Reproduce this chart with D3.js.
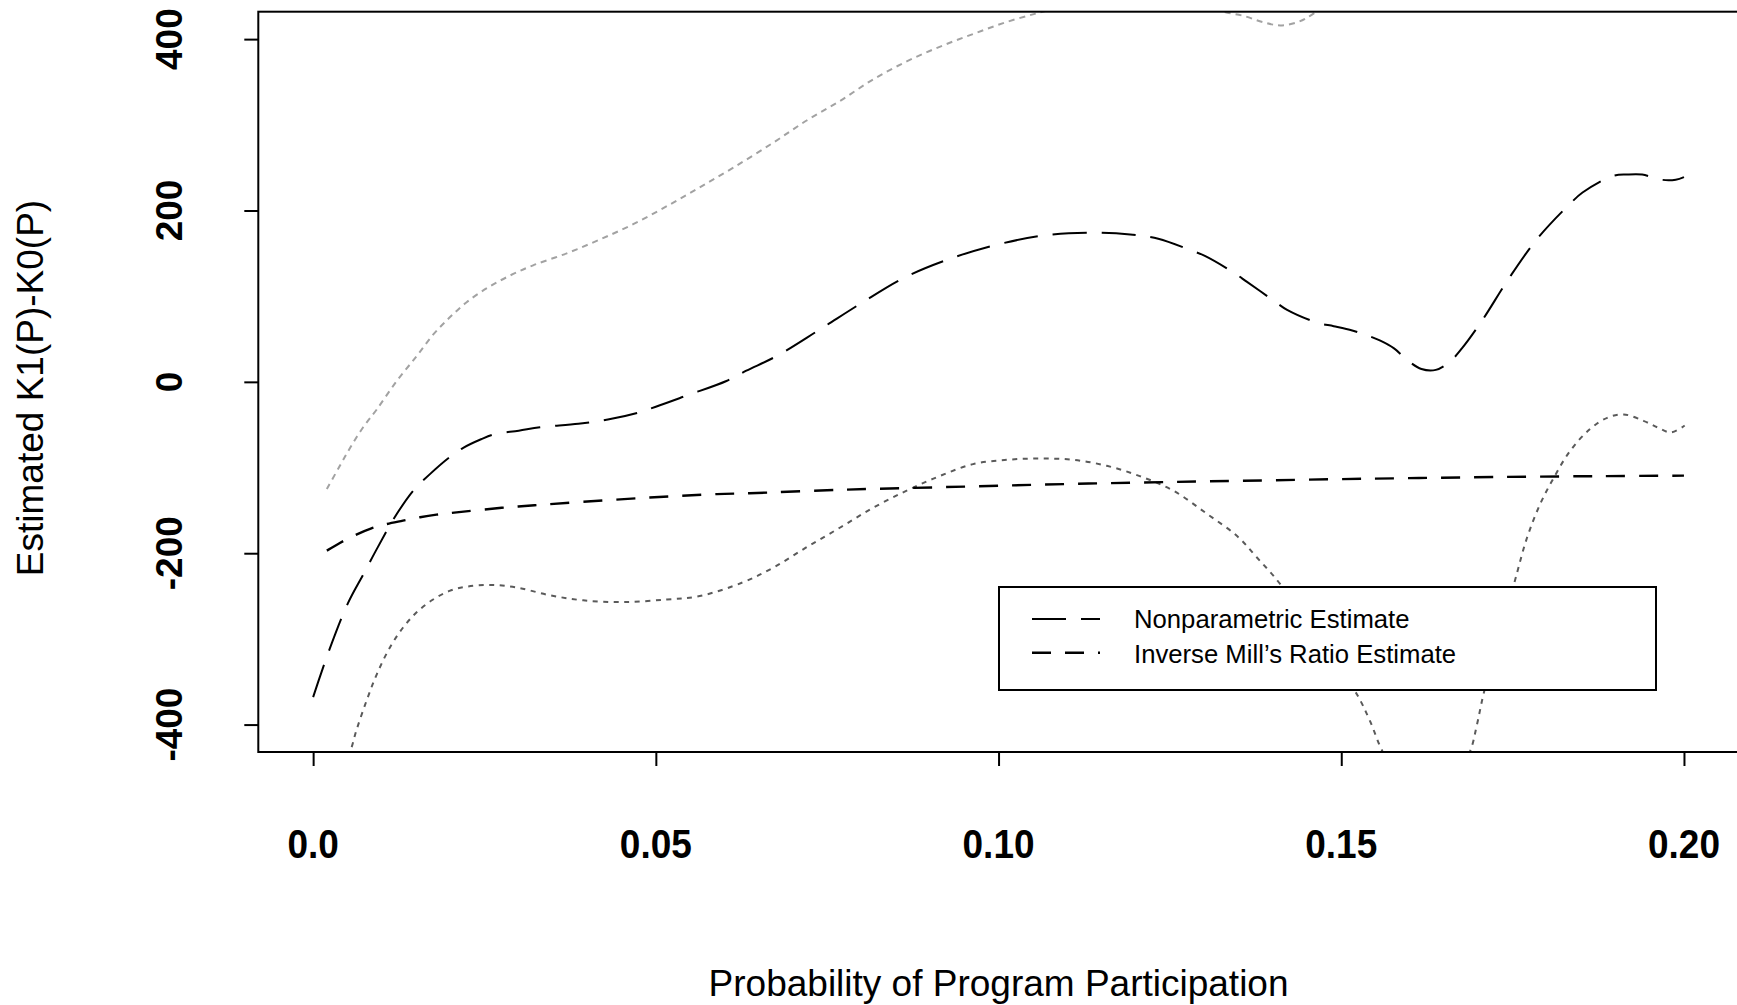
<!DOCTYPE html>
<html>
<head>
<meta charset="utf-8">
<script src="https://cdn.jsdelivr.net/npm/d3@7"></script>
<style>
  html, body { margin: 0; padding: 0; background: #fff; }
  svg { display: block; }
  text { font-family: "Liberation Sans", Arial, Helvetica, sans-serif; fill: #000; }
</style>
</head>
<body>
<svg id="chart" width="1737" height="1005"></svg>
<script>
// ---------------- data ----------------
const xTicks = [0, 0.05, 0.10, 0.15, 0.20];
const xTickLabels = ["0.0", "0.05", "0.10", "0.15", "0.20"];
const yTicks = [-400, -200, 0, 200, 400];
const yTickLabels = ["-400", "-200", "0", "200", "400"];
const xTitle = "Probability of Program Participation";
const yTitle = "Estimated K1(P)-K0(P)";
const legendLabels = ["Nonparametric Estimate", "Inverse Mill\u2019s Ratio Estimate"];

// Nonparametric estimate [P, K1-K0]
const nonparametric = [
  [0.000,-368],[0.0024,-312],[0.0051,-258],[0.0073,-225],[0.0095,-192],[0.0119,-158],
  [0.0146,-127],[0.0170,-108],[0.0199,-88],[0.0219,-77],[0.0245,-67],[0.0265,-61],
  [0.0300,-57],[0.0331,-53],[0.0387,-49],[0.0430,-44],[0.0474,-36],[0.0500,-29],
  [0.0545,-16],[0.0603,1],[0.0632,13],[0.0676,30],[0.0737,60],[0.0798,91],
  [0.0861,121],[0.0927,143],[0.0997,160],[0.1068,171],[0.1138,174],[0.1192,172],
  [0.1233,167],[0.1279,154],[0.1301,147],[0.1342,128],[0.1362,117],[0.1401,95],
  [0.1421,84],[0.1465,69],[0.1489,65],[0.1516,60],[0.1535,55],[0.1557,48],
  [0.1577,39],[0.1597,25],[0.1617,15],[0.1638,14],[0.1659,24],[0.1676,39],
  [0.1705,71],[0.1744,120],[0.1786,167],[0.1834,208],[0.1852,221],[0.1895,240],
  [0.1917,242],[0.1939,242],[0.1966,236],[0.1988,236],[0.2000,239]
];

// Inverse Mill's ratio estimate
const inverseMills = [
  [0.002,-197],[0.0039,-188],[0.0061,-179],[0.0085,-171],[0.0107,-166],[0.0131,-162],
  [0.0156,-158],[0.018,-155],[0.0202,-153],[0.0275,-147],[0.0323,-144],[0.0394,-140],
  [0.0491,-135],[0.0589,-131],[0.0637,-130],[0.0769,-126],[0.0914,-123],[0.106,-120],
  [0.1206,-117.5],[0.1352,-115.5],[0.1542,-113],[0.1737,-111],[0.1883,-110],[0.2,-109.5]
];

// Upper confidence band (parts above the frame are estimated, clipped)
const upperBand = [
  [0.002,-125],[0.0039,-98],[0.0054,-77],[0.0073,-53],[0.0093,-32],[0.0122,1],
  [0.0151,30],[0.0175,55],[0.0199,75],[0.0224,93],[0.0255,110],[0.0287,124],
  [0.0321,136],[0.037,150],[0.0418,166],[0.0467,184],[0.0516,205],[0.0564,227],
  [0.0613,250],[0.0671,279],[0.072,305],[0.0769,328],[0.0817,353],[0.0866,374],
  [0.0914,391],[0.0963,406],[0.1012,420],[0.106,431],[0.110,439],[0.115,444],
  [0.120,446],[0.125,445],[0.130,440],[0.1328,432],[0.1358,427],[0.1385,420],
  [0.1411,416],[0.1437,420],[0.146,430],[0.150,456],[0.155,520],[0.160,515],
  [0.165,500],[0.170,505],[0.175,480],[0.180,472],[0.185,490],[0.190,519],
  [0.195,525],[0.200,527]
];

// Lower confidence band (parts below the frame are estimated, clipped)
const lowerBand = [
  [0.002,-519],[0.0039,-452],[0.0054,-431],[0.0063,-407],[0.0078,-372],[0.0093,-341],
  [0.0112,-310],[0.0131,-287],[0.0151,-269],[0.0175,-254],[0.0199,-244],[0.0224,-239],
  [0.0258,-237],[0.0297,-240],[0.0345,-249],[0.0394,-255],[0.0452,-257],[0.0516,-254],
  [0.0564,-250],[0.0627,-234],[0.0671,-217],[0.072,-193],[0.0769,-170],[0.0817,-147],
  [0.0866,-127],[0.0914,-110],[0.0963,-96],[0.1012,-91],[0.106,-89.5],[0.1109,-91],
  [0.1158,-98],[0.1206,-110],[0.1255,-127],[0.1304,-154],[0.1348,-180],[0.1377,-205],
  [0.1411,-236],[0.1467,-300],[0.1523,-365],[0.1542,-396],[0.156,-431],[0.159,-470],
  [0.1625,-490],[0.166,-470],[0.1688,-431],[0.1698,-400],[0.1708,-363],[0.1752,-236],
  [0.1771,-182],[0.179,-143],[0.181,-112],[0.1834,-80.5],[0.1863,-55],[0.1888,-42],
  [0.1912,-38],[0.1941,-45.5],[0.1961,-53],[0.1981,-59],[0.2001,-51]
];

// ---------------- layout ----------------
const W = 1737, H = 1005;
const plot = { left: 258.3, right: 1738.8, top: 11.7, bottom: 752 };
const FONT = 37;

const svg = d3.select("#chart");

const x = d3.scaleLinear().domain([-0.008, 0.208]).range([plot.left, plot.right]);
const y = d3.scaleLinear().domain([-432, 432]).range([plot.bottom, plot.top]);

svg.append("defs").append("clipPath").attr("id", "clip")
  .append("rect")
  .attr("x", plot.left).attr("y", plot.top)
  .attr("width", plot.right - plot.left).attr("height", plot.bottom - plot.top);

const line = d3.line().x(d => x(d[0])).y(d => y(d[1])).curve(d3.curveCatmullRom.alpha(0.5));

const g = svg.append("g").attr("clip-path", "url(#clip)");

g.append("path").datum(upperBand).attr("d", line)
  .attr("fill", "none").attr("stroke", "#a2a2a2").attr("stroke-width", 2)
  .attr("stroke-dasharray", "6,5");
g.append("path").datum(lowerBand).attr("d", line)
  .attr("fill", "none").attr("stroke", "#5a5a5a").attr("stroke-width", 2)
  .attr("stroke-dasharray", "5,5.5");
g.append("path").datum(inverseMills).attr("d", line)
  .attr("fill", "none").attr("stroke", "#000").attr("stroke-width", 2.4)
  .attr("stroke-dasharray", "19,14");
g.append("path").datum(nonparametric).attr("d", line)
  .attr("fill", "none").attr("stroke", "#000").attr("stroke-width", 2)
  .attr("stroke-dasharray", "34,15");

// ---------------- axes ----------------
const xAxis = d3.axisBottom(x).tickValues(xTicks).tickSize(14).tickFormat("");
const xg = svg.append("g").attr("transform", `translate(0,${plot.bottom})`).call(xAxis);
xg.select(".domain").remove();
xg.selectAll(".tick line").attr("stroke", "#000").attr("stroke-width", 2);

const yAxis = d3.axisLeft(y).tickValues(yTicks).tickSize(14).tickFormat("");
const yg = svg.append("g").attr("transform", `translate(${plot.left},0)`).call(yAxis);
yg.select(".domain").remove();
yg.selectAll(".tick line").attr("stroke", "#000").attr("stroke-width", 2);

svg.append("g").selectAll("text").data(xTicks).join("text")
  .attr("transform", d => `translate(${x(d)},858) scale(1,1.08)`)
  .attr("text-anchor", "middle")
  .attr("font-size", FONT).attr("font-weight", "bold")
  .text((d, i) => xTickLabels[i]);

svg.append("g").selectAll("text").data(yTicks).join("text")
  .attr("transform", d => `translate(182,${y(d)}) rotate(-90)`)
  .attr("text-anchor", "middle")
  .attr("font-size", FONT).attr("font-weight", "bold")
  .text((d, i) => yTickLabels[i]);

// frame
svg.append("rect")
  .attr("x", plot.left).attr("y", plot.top)
  .attr("width", plot.right - plot.left).attr("height", plot.bottom - plot.top)
  .attr("fill", "none").attr("stroke", "#000").attr("stroke-width", 2);

// titles
svg.append("text")
  .attr("x", (plot.left + plot.right) / 2).attr("y", 996)
  .attr("text-anchor", "middle").attr("font-size", FONT)
  .text(xTitle);
svg.append("text")
  .attr("transform", `translate(43,388) rotate(-90)`)
  .attr("text-anchor", "middle").attr("font-size", FONT)
  .text(yTitle);

// ---------------- legend ----------------
const leg = svg.append("g");
leg.append("rect")
  .attr("x", 999).attr("y", 587).attr("width", 657).attr("height", 103)
  .attr("fill", "#fff").attr("stroke", "#000").attr("stroke-width", 2);
const legRows = [
  { y: 619, dash: "34,15", w: 2, base: 628.3 },
  { y: 652.7, dash: "19,14", w: 2.4, base: 662.7 }
];
legRows.forEach((r, i) => {
  leg.append("line")
    .attr("x1", 1032).attr("x2", 1100).attr("y1", r.y).attr("y2", r.y)
    .attr("stroke", "#000").attr("stroke-width", r.w).attr("stroke-dasharray", r.dash);
  leg.append("text")
    .attr("x", 1134).attr("y", r.base)
    .attr("font-size", 25.7)
    .text(legendLabels[i]);
});
</script>
</body>
</html>
